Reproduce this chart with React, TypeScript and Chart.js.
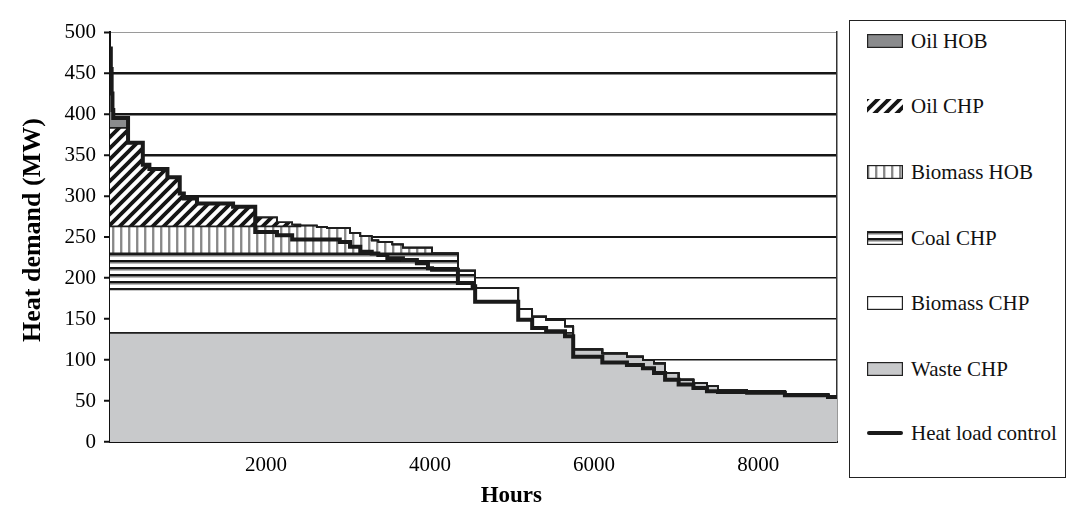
import React, { useEffect, useRef } from "react";
import { Chart, registerables } from "chart.js";

Chart.register(...registerables);

const SERIF = '"Liberation Serif", "Times New Roman", serif';

// Hours at which each step starts (last entry = end of the duration curve)
const hours = [100, 110, 120, 130, 140, 320, 500, 580, 800, 950, 1000, 1160, 1600, 1870, 2135, 2320, 2420, 2620, 2745, 2900, 3025, 3150, 3290, 3370, 3480, 3540, 3670, 3840, 3975, 4025, 4340, 4520, 4550, 5075, 5245, 5415, 5645, 5745, 6100, 6400, 6595, 6730, 6865, 7030, 7210, 7375, 7510, 7865, 8325, 8850, 8960];

// Heat production per unit (MW), stacked from bottom to top
const wasteCHP = [133, 133, 133, 133, 133, 133, 133, 133, 133, 133, 133, 133, 133, 133, 133, 133, 133, 133, 133, 133, 133, 133, 133, 133, 133, 133, 133, 133, 133, 133, 133, 133, 133, 133, 133, 133, 133, 113, 108, 104, 100, 96, 84, 76, 72, 68, 63, 62, 58, 56, 56];
const biomassCHP = [53, 53, 53, 53, 53, 53, 53, 53, 53, 53, 53, 53, 53, 53, 53, 53, 53, 53, 53, 53, 53, 53, 53, 53, 53, 53, 53, 53, 53, 53, 53, 53, 55, 29, 20, 16, 8, 0, 0, 0, 0, 0, 0, 0, 0, 0, 0, 0, 0, 0, 0];
const coalCHP = [44, 44, 44, 44, 44, 44, 44, 44, 44, 44, 44, 44, 44, 44, 44, 44, 44, 44, 44, 44, 44, 44, 44, 44, 44, 44, 44, 44, 44, 44, 23, 23, 0, 0, 0, 0, 0, 0, 0, 0, 0, 0, 0, 0, 0, 0, 0, 0, 0, 0, 0];
const biomassHOB = [33, 33, 33, 33, 33, 33, 33, 33, 33, 33, 33, 33, 33, 33, 33, 33, 34, 32, 31, 31, 25, 21, 16, 14, 14, 11, 7, 7, 7, 0, 0, 0, 0, 0, 0, 0, 0, 0, 0, 0, 0, 0, 0, 0, 0, 0, 0, 0, 0, 0, 0];
const oilCHP = [120, 120, 120, 120, 120, 102, 75, 70, 60, 40, 34, 28, 24, 11, 5, 2, 0, 0, 0, 0, 0, 0, 0, 0, 0, 0, 0, 0, 0, 0, 0, 0, 0, 0, 0, 0, 0, 0, 0, 0, 0, 0, 0, 0, 0, 0, 0, 0, 0, 0, 0];
const oilHOB = [97, 72, 42, 22, 12, 0, 0, 0, 0, 0, 0, 0, 0, 0, 0, 0, 0, 0, 0, 0, 0, 0, 0, 0, 0, 0, 0, 0, 0, 0, 0, 0, 0, 0, 0, 0, 0, 0, 0, 0, 0, 0, 0, 0, 0, 0, 0, 0, 0, 0, 0];

// Heat load control curve (MW)
const heatLoad = [480, 455, 425, 405, 395, 365, 338, 333, 323, 303, 297, 291, 287, 256, 252, 247, 247, 247, 247, 244, 238, 232, 230, 228, 224, 224, 222, 218, 212, 210, 194, 190, 171, 149, 139, 135, 129, 104, 97, 94, 90, 84, 76, 70, 66, 62, 61, 60, 57, 55, 55];

const xTicks = [2000, 4000, 6000, 8000];
const xTitle = "Hours";
const yTitle = "Heat demand (MW)";

const layerNames = ["Waste CHP", "Biomass CHP", "Coal CHP", "Biomass HOB", "Oil CHP", "Oil HOB"];
const layerValues = [wasteCHP, biomassCHP, coalCHP, biomassHOB, oilCHP, oilHOB];
const layerKinds = ["waste", "white", "horiz", "vert", "diag", "oilhob"];

const legendOrder = ["Oil HOB", "Oil CHP", "Biomass HOB", "Coal CHP", "Biomass CHP", "Waste CHP", "Heat load control"];
const legendKinds = ["oilhob", "diag", "vert", "horiz", "white", "waste", "line"];

function makeFill(kind: string): CanvasPattern | string {
  if (kind === "waste") return "#c8c9cb";
  if (kind === "oilhob") return "#8a8b8d";
  if (kind === "white") return "#ffffff";
  const c = document.createElement("canvas");
  const ctx = c.getContext("2d")!;
  if (kind === "diag") {
    const s = 11;
    c.width = s;
    c.height = s;
    ctx.fillStyle = "#fff";
    ctx.fillRect(0, 0, s, s);
    ctx.strokeStyle = "#151515";
    ctx.lineWidth = 3.8;
    ctx.beginPath();
    ctx.moveTo(-2, 2);
    ctx.lineTo(2, -2);
    ctx.moveTo(-1, s + 1);
    ctx.lineTo(s + 1, -1);
    ctx.moveTo(s - 2, s + 2);
    ctx.lineTo(s + 2, s - 2);
    ctx.stroke();
  } else if (kind === "vert") {
    c.width = 8;
    c.height = 8;
    ctx.fillStyle = "#fff";
    ctx.fillRect(0, 0, 8, 8);
    ctx.fillStyle = "#a3a3a3";
    ctx.fillRect(0, 0, 2.5, 8);
    ctx.fillStyle = "#7d7d7d";
    ctx.fillRect(0.5, 0, 1.2, 8);
  } else if (kind === "horiz") {
    c.width = 8;
    c.height = 7;
    ctx.fillStyle = "#fff";
    ctx.fillRect(0, 0, 8, 7);
    ctx.fillStyle = "#151515";
    ctx.fillRect(0, 0, 8, 2.6);
    ctx.fillStyle = "#8c8c8c";
    ctx.fillRect(0, 2.6, 8, 1);
  }
  return ctx.createPattern(c, "repeat")!;
}

function Swatch({ kind }: { kind: string }) {
  const ref = useRef<HTMLCanvasElement>(null);
  useEffect(() => {
    const cv = ref.current!;
    const ctx = cv.getContext("2d")!;
    ctx.clearRect(0, 0, cv.width, cv.height);
    if (kind === "line") {
      ctx.strokeStyle = "#1a1a1a";
      ctx.lineWidth = 4;
      ctx.lineCap = "round";
      ctx.beginPath();
      ctx.moveTo(2, 7);
      ctx.lineTo(34, 7);
      ctx.stroke();
      return;
    }
    ctx.fillStyle = makeFill(kind) as any;
    ctx.fillRect(0, 0, 36, 14);
    if (kind !== "diag") {
      ctx.strokeStyle = "#222";
      ctx.lineWidth = 1.2;
      ctx.strokeRect(0.6, 0.6, 34.8, 12.8);
    }
  }, [kind]);
  return <canvas ref={ref} width={36} height={14} style={{ position: "absolute", left: 17, top: -7 }} />;
}

function Legend() {
  const centers = [20, 85, 151, 217, 282, 348, 412];
  return (
    <div
      style={{
        position: "absolute",
        left: 841,
        top: 12,
        width: 217,
        height: 458,
        border: "1px solid #222",
        boxSizing: "border-box",
        background: "#fff",
      }}
    >
      {legendOrder.map((name, i) => (
        <div key={name} style={{ position: "absolute", left: 0, top: centers[i], width: "100%", height: 0 }}>
          <Swatch kind={legendKinds[i]} />
          <span
            style={{
              position: "absolute",
              left: 61,
              top: -12,
              fontFamily: SERIF,
              fontSize: 21,
              lineHeight: "24px",
              color: "#111",
              whiteSpace: "nowrap",
            }}
          >
            {name}
          </span>
        </div>
      ))}
    </div>
  );
}

// Axis titles placed like the original figure (x title offset to the right)
const axisTitlePlugin = {
  id: "axisTitlePlugin",
  afterDraw(chart: any) {
    const { ctx, chartArea } = chart;
    const w = chartArea.right - chartArea.left;
    const h = chartArea.bottom - chartArea.top;
    ctx.save();
    ctx.fillStyle = "#000";
    ctx.textAlign = "center";
    ctx.textBaseline = "middle";
    ctx.font = `bold 23px ${SERIF}`;
    ctx.fillText(xTitle, chartArea.left + w * 0.552, chartArea.bottom + 54);
    ctx.translate(25, chartArea.top + h * 0.483);
    ctx.rotate(-Math.PI / 2);
    ctx.font = `bold 26px ${SERIF}`;
    ctx.fillText(yTitle, 0, 0);
    ctx.restore();
  },
};

export default function App() {
  const canvasRef = useRef<HTMLCanvasElement>(null);

  useEffect(() => {
    let cum = hours.map(() => 0);
    const tops = layerValues.map((vals) => {
      cum = cum.map((c, i) => c + vals[i]);
      return cum;
    });

    const areaSets = layerNames.map((name, k) => ({
      label: name,
      data: hours.map((h, i) => ({ x: h, y: tops[k][i] })),
      stepped: true,
      fill: k === 0 ? "origin" : "-1",
      backgroundColor: makeFill(layerKinds[k]) as any,
      borderColor: "#1e1e1e",
      borderWidth: 1.7,
      pointRadius: 0,
      order: 1,
    }));

    const heatSet = {
      label: "Heat load control",
      data: hours.map((h, i) => ({ x: h, y: heatLoad[i] })),
      stepped: true,
      fill: false,
      borderColor: "#1a1a1a",
      borderWidth: 4,
      pointRadius: 0,
      order: -1,
    };

    const chart = new Chart(canvasRef.current!, {
      type: "line",
      data: { datasets: [...areaSets, heatSet] as any },
      plugins: [axisTitlePlugin],
      options: {
        animation: false,
        responsive: true,
        maintainAspectRatio: false,
        layout: { padding: { top: 24, right: 239, bottom: 0, left: 0 } },
        plugins: {
          legend: { display: false },
          tooltip: { enabled: false },
          filler: { drawTime: "beforeDatasetsDraw" } as any,
        },
        scales: {
          x: {
            type: "linear",
            min: 100,
            max: 8960,
            afterBuildTicks: (s: any) => {
              s.ticks = xTicks.map((v) => ({ value: v }));
            },
            afterFit: (s: any) => {
              s.height = 66;
            },
            grid: { display: false, drawTicks: false },
            border: { display: true, color: "#111", width: 2 },
            ticks: {
              color: "#000",
              font: { family: SERIF, size: 21 },
              padding: 11,
              maxRotation: 0,
              autoSkip: false,
              callback: (v: any) => String(v),
            },
          },
          y: {
            min: 0,
            max: 500,
            afterFit: (s: any) => {
              s.width = 102;
            },
            ticks: {
              stepSize: 50,
              color: "#000",
              font: { family: SERIF, size: 21 },
              padding: 8,
              callback: (v: any) => String(v),
            },
            grid: {
              color: (c: any) => (c.tick && c.tick.value === 500 ? "#9a9a9a" : "#161616"),
              lineWidth: (c: any) => {
                const v = c.tick ? c.tick.value : 0;
                if (v === 500) return 1;
                if (v >= 300) return 2.5;
                if (v === 250) return 2;
                return 1.5;
              },
              drawTicks: true,
              tickLength: 6,
              tickColor: "#111",
              tickWidth: 2,
            } as any,
            border: { display: true, color: "#111", width: 2 },
          },
          y2: {
            position: "right",
            min: 0,
            max: 500,
            afterFit: (s: any) => {
              s.width = 0;
            },
            grid: { display: false, drawTicks: false },
            ticks: { display: false },
            border: { display: true, color: "#333", width: 1.5 },
          },
        },
      },
    });
    return () => chart.destroy();
  }, []);

  return (
    <div style={{ position: "relative", width: 1068, height: 500 }}>
      <canvas ref={canvasRef} />
      <Legend />
    </div>
  );
}
